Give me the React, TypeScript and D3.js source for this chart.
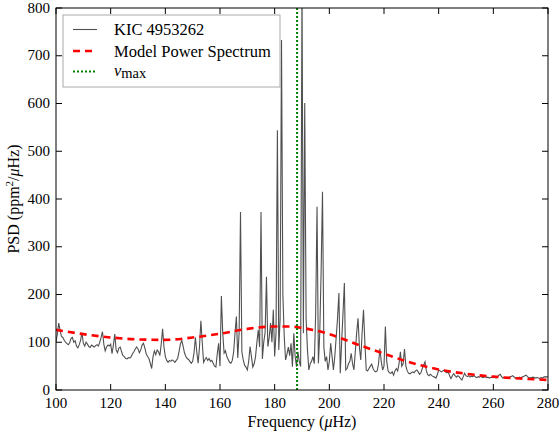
import React from "react";
import * as d3 from "d3";

// Frequency grid: 100 to 280 µHz in 0.5 µHz steps
const freqStart = 100;
const freqStep = 0.5;
const psd: number[] = [
  100, 118, 140, 125, 112, 110, 104, 100, 97, 95,
  99, 108, 110, 100, 103, 92, 88, 95, 104, 120,
  98, 92, 100, 96, 91, 89, 94, 92, 90, 93,
  95, 92, 100, 110, 122, 96, 82, 90, 94, 92,
  96, 76, 94, 117, 84, 78, 88, 90, 80, 72,
  70, 66, 65, 68, 67, 70, 76, 80, 86, 90,
  86, 78, 84, 94, 98, 88, 76, 70, 66, 56,
  45, 70, 82, 74, 84, 80, 72, 96, 128, 90,
  70, 62, 58, 62, 60, 63, 61, 58, 62, 66,
  80, 96, 104, 92, 78, 70, 66, 64, 60, 56,
  60, 78, 110, 80, 56, 90, 145, 100, 58, 64,
  68, 62, 66, 60, 62, 56, 50, 48, 76, 98,
  50, 197, 120, 77, 82, 70, 64, 58, 56, 62,
  80, 120, 154, 67, 120, 373, 80, 63, 52, 48,
  42, 60, 91, 70, 48, 55, 70, 100, 126, 90,
  373, 65, 100, 120, 237, 91, 110, 140, 100, 168,
  70, 120, 544, 84, 150, 733, 200, 112, 63, 75,
  90, 72, 98, 49, 119, 70, 49, 80, 60, 49,
  850, 119, 601, 150, 84, 42, 55, 60, 70, 55,
  160, 384, 56, 120, 250, 415, 90, 60, 70, 42,
  60, 98, 70, 42, 70, 110, 150, 203, 35, 100,
  160, 224, 42, 45, 55, 60, 77, 55, 42, 80,
  120, 150, 90, 63, 120, 168, 100, 42, 40, 45,
  50, 54, 45, 40, 38, 40, 55, 87, 60, 42,
  50, 133, 60, 40, 36, 35, 38, 31, 40, 45,
  40, 55, 80, 50, 55, 86, 50, 40, 35, 34,
  36, 38, 36, 40, 42, 38, 33, 36, 45, 52,
  59, 40, 32, 30, 33, 30, 28, 27, 25, 32,
  42, 40, 38, 40, 42, 38, 36, 38, 30, 24,
  30, 34, 30, 27, 30, 28, 24, 21, 28, 35,
  30, 28, 30, 27, 29, 28, 30, 27, 26, 28,
  27, 29, 26, 27, 28, 26, 27, 25, 26, 27,
  26, 27, 25, 28, 31, 33, 28, 25, 26, 25,
  26, 25, 27, 28, 30, 28, 25, 26, 25, 27,
  25, 27, 28, 30, 31, 28, 26, 25, 26, 27,
  26, 25, 26, 25, 24, 26, 25, 27, 28, 27, 28,
];

// Model power spectrum samples
const modelFreq: number[] = [100, 110, 120, 130, 140, 150, 160, 170, 180, 185, 190, 200, 210, 220, 230, 240, 250, 260, 270, 280];
const modelPsd: number[] = [126, 117, 110, 106, 105, 110, 118, 128, 133, 133, 130, 117, 96, 76, 57, 43, 34, 28, 24, 21];

const numax = 188.2;

const xTicks: number[] = [100, 120, 140, 160, 180, 200, 220, 240, 260, 280];
const yTicks: number[] = [0, 100, 200, 300, 400, 500, 600, 700, 800];

const legendLabels: string[] = ["KIC 4953262", "Model Power Spectrum", "max"];

const W = 560;
const H = 434;
const L = 56, R = 548, T = 8, B = 390;
const FONT = "'Liberation Serif', 'Times New Roman', serif";

export default function App() {
  const x = d3.scaleLinear().domain([100, 280]).range([L, R]);
  const y = d3.scaleLinear().domain([0, 800]).range([B, T]);

  const specLine = d3
    .line<number>()
    .x((_, i) => x(freqStart + i * freqStep))
    .y((d) => y(d))(psd) as string;

  const modelLine = d3
    .line<number>()
    .x((_, i) => x(modelFreq[i]))
    .y((d) => y(d))
    .curve(d3.curveMonotoneX)(modelPsd) as string;

  const tickLen = 6;
  const lx = 63, ly = 15, lw = 217, lh = 72;

  return (
    <svg width={W} height={H} style={{ position: "absolute", left: 0, top: 0 }} fontFamily={FONT}>
      <rect x={0} y={0} width={W} height={H} fill="#fff" />
      <defs>
        <clipPath id="plot">
          <rect x={L} y={T} width={R - L} height={B - T} />
        </clipPath>
      </defs>
      <g clipPath="url(#plot)">
        <path d={specLine} fill="none" stroke="#505050" strokeWidth={1.1} />
        <path d={modelLine} fill="none" stroke="#ff0000" strokeWidth={2.6} strokeDasharray="7,5" />
        <line x1={x(numax)} x2={x(numax)} y1={T} y2={B} stroke="#008000" strokeWidth={2} strokeDasharray="2,2" />
      </g>

      {/* frame */}
      <rect x={L} y={T} width={R - L} height={B - T} fill="none" stroke="#000" strokeWidth={1} />

      {/* x ticks */}
      {xTicks.map((t) => (
        <g key={"x" + t}>
          <line x1={x(t)} x2={x(t)} y1={B} y2={B - tickLen} stroke="#000" />
          <line x1={x(t)} x2={x(t)} y1={T} y2={T + tickLen} stroke="#000" />
          <text x={x(t)} y={408} fontSize={15} textAnchor="middle" fill="#000">{t}</text>
        </g>
      ))}
      {/* y ticks */}
      {yTicks.map((t) => (
        <g key={"y" + t}>
          <line x1={L} x2={L + tickLen} y1={y(t)} y2={y(t)} stroke="#000" />
          <line x1={R} x2={R - tickLen} y1={y(t)} y2={y(t)} stroke="#000" />
          <text x={50} y={y(t) + 4.5} fontSize={15} textAnchor="end" fill="#000">{t}</text>
        </g>
      ))}

      <text x={(L + R) / 2} y={427} fontSize={16} textAnchor="middle" fill="#000">
        Frequency (<tspan fontStyle="italic">μ</tspan>Hz)
      </text>
      <text transform={`translate(19, ${(T + B) / 2}) rotate(-90)`} fontSize={16} textAnchor="middle" fill="#000">
        PSD (ppm<tspan fontSize={11} dy={-6}>2</tspan><tspan dy={6}>/</tspan><tspan fontStyle="italic">μ</tspan>Hz)
      </text>

      {/* legend */}
      <rect x={lx} y={ly} width={lw} height={lh} fill="#fff" stroke="#aaa" strokeWidth={1} />
      <line x1={73} x2={97} y1={29.5} y2={29.5} stroke="#505050" strokeWidth={1.1} />
      <line x1={73} x2={97} y1={51} y2={51} stroke="#ff0000" strokeWidth={2.6} strokeDasharray="7,5" />
      <line x1={73} x2={97} y1={71.5} y2={71.5} stroke="#008000" strokeWidth={2} strokeDasharray="2,2" />
      <text x={114} y={35} fontSize={16.5} fill="#000">{legendLabels[0]}</text>
      <text x={114} y={56.5} fontSize={16.5} fill="#000">{legendLabels[1]}</text>
      <text x={114} y={76} fontSize={16.5} fill="#000">
        <tspan fontStyle="italic">ν</tspan><tspan fontSize={14.5} dy={2}>{legendLabels[2]}</tspan>
      </text>
    </svg>
  );
}
